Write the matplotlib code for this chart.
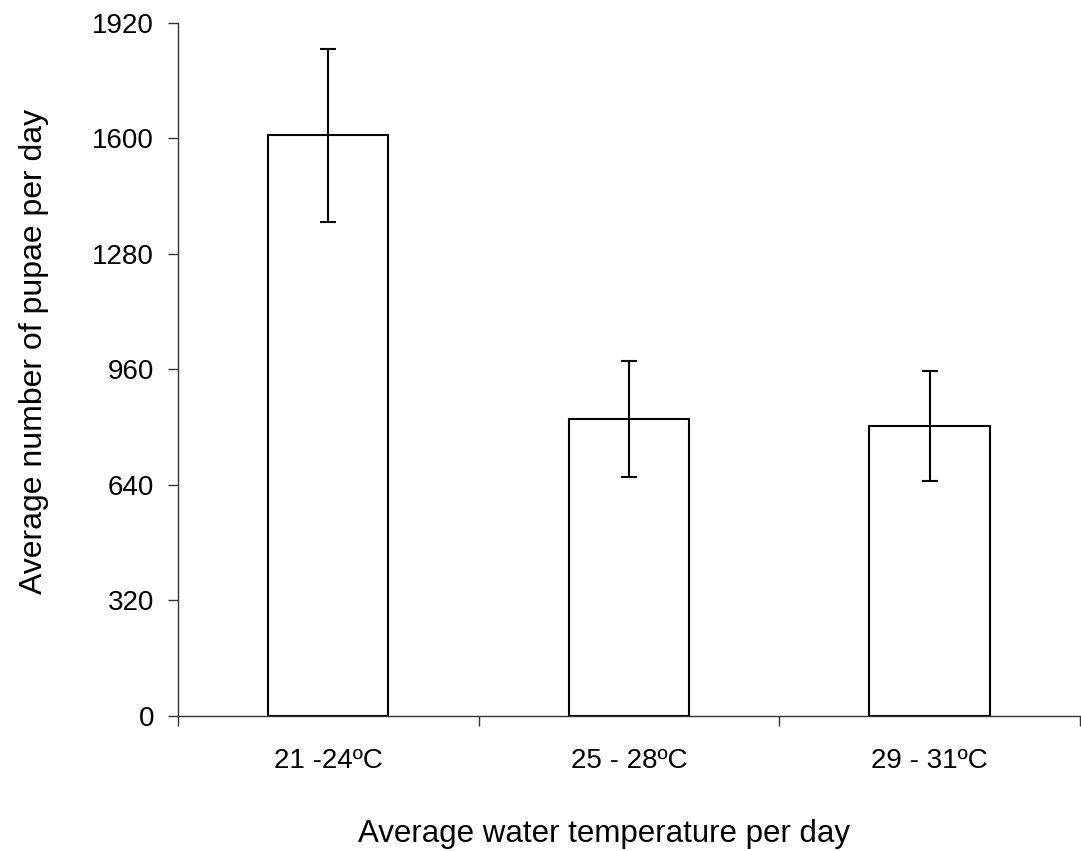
import numpy as np
import matplotlib.pyplot as plt

plt.rcParams['font.family'] = ['Liberation Sans', 'DejaVu Sans']

# data
categories = ['21 -24ºC', '25 - 28ºC', '29 - 31ºC']
pupae_mean = [1608, 823, 802]
pupae_err = [240, 161, 152]
yticks = [0, 320, 640, 960, 1280, 1600, 1920]

fig = plt.figure(figsize=(10.81, 8.51), dpi=100)
ax = fig.add_axes([0.1647, 0.159, 0.8343, 0.8143])

x = np.arange(1, len(categories) + 1)
ax.bar(x, pupae_mean, width=0.4, color='white', edgecolor='black', linewidth=1.5,
       zorder=2)
ax.errorbar(x, pupae_mean, yerr=pupae_err, fmt='none', ecolor='black',
            elinewidth=1.5, capsize=5.8, capthick=1.5, zorder=3)

ax.set_xlim(0.5, 3.5)
ax.set_ylim(0, 1920)
ax.set_yticks(yticks)
ax.set_yticklabels([str(v) for v in yticks])

# ticks on category boundaries, labels centered under bars
ax.set_xticks([0.5, 1.5, 2.5, 3.5])
ax.set_xticklabels([])
ax.set_xticks(x, minor=True)
ax.set_xticklabels(categories, minor=True)
ax.tick_params(axis='x', which='minor', length=0, pad=23, labelsize=20)
ax.tick_params(axis='x', which='major', length=7.2, width=1, color='#333333')
ax.tick_params(axis='y', length=7.2, width=1, color='#333333', labelsize=20, pad=10)

for s in ['top', 'right']:
    ax.spines[s].set_visible(False)
for s in ['left', 'bottom']:
    ax.spines[s].set_linewidth(1)
    ax.spines[s].set_color('#333333')

ax.set_xlabel('Average water temperature per day', fontsize=22.5)
ax.set_ylabel('Average number of pupae per day', fontsize=23)
ax.xaxis.set_label_coords(0.472, -0.149)
ax.yaxis.set_label_coords(-0.143, 0.525)

fig.savefig('out.png', dpi=100)
